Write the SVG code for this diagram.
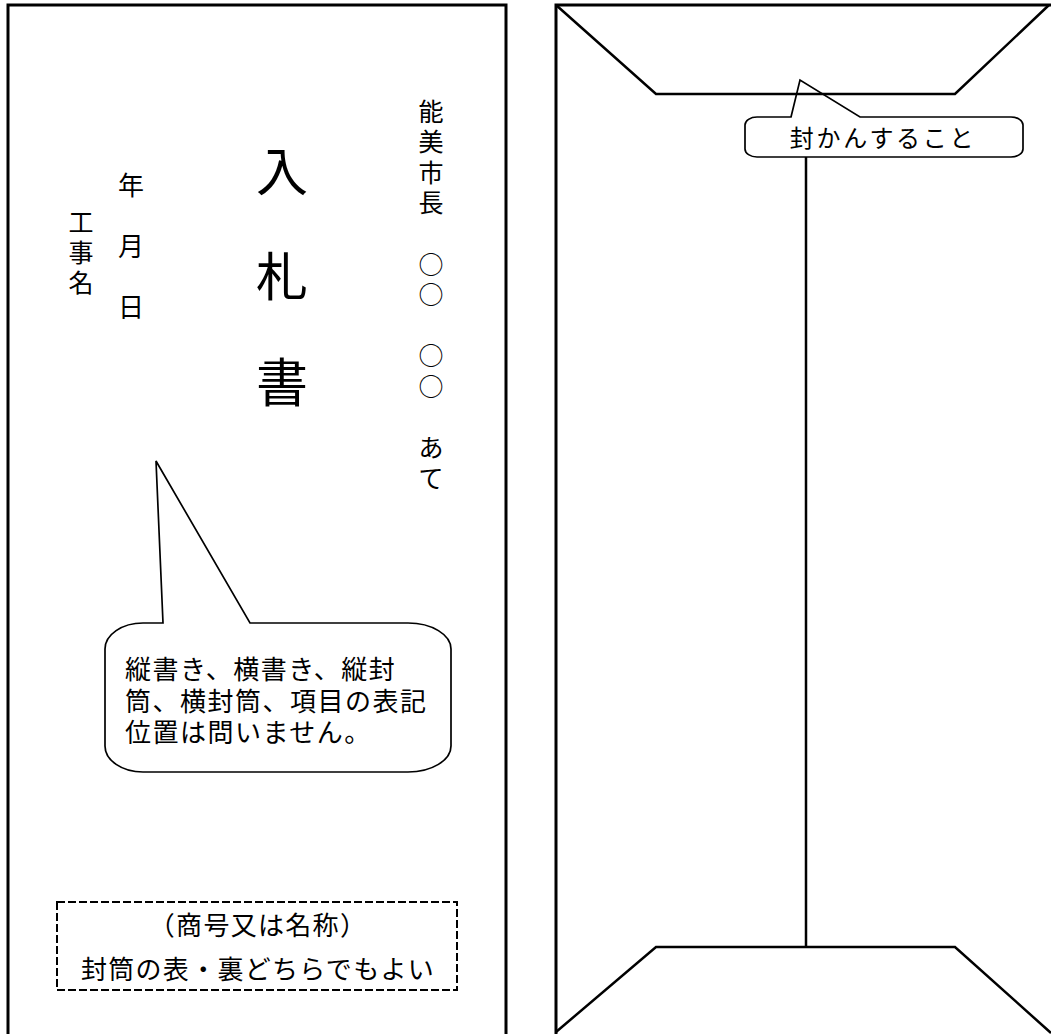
<svg xmlns="http://www.w3.org/2000/svg" width="1051" height="1034" viewBox="0 0 1051 1034">
<style>
.t{font-family:"Noto Sans CJK JP","Noto Sans CJK SC",sans-serif;fill:#000}
.env{fill:none;stroke:#000;stroke-width:3}
.flap{fill:none;stroke:#000;stroke-width:2.5}
.call{fill:#fff;stroke:#000;stroke-width:1.7;stroke-linejoin:miter}
</style>
<rect width="1051" height="1034" fill="#fff"/>
<g id="front-envelope">
<path class="env" d="M8,1036 V5 H506 V1036"/>
<text class="t" font-size="25" text-anchor="middle" x="431 431 431 431 431 431 431 431 431 431" y="120.5 151.1 181.7 212.3 273.5 304.1 365.3 395.9 457.1 487.7">能美市長○○○○あて</text>
<text class="t" font-size="52" text-anchor="middle" x="282 282 282" y="191 296 402">入札書</text>
<text class="t" font-size="26" text-anchor="middle" x="131 131 131" y="194.5 256 317">年月日</text>
<text class="t" font-size="25" text-anchor="middle" x="81 81 81" y="231.5 261.5 291.5">工事名</text>
</g>
<g id="note-callout">
<path class="call" d="M163,623 L156,461 L250,623 H408 A43,26 0 0 1 451,649 V746 A43,26 0 0 1 408,772 H143 A38,26 0 0 1 105,746 V649 A38,26 0 0 1 143,623 Z"/>
<text class="t" font-size="26" letter-spacing="1.5" x="125" y="679">縦書き、横書き、縦封</text>
<text class="t" font-size="26" letter-spacing="1.5" x="125" y="711">筒、横封筒、項目の表記</text>
<text class="t" font-size="26" letter-spacing="1.5" x="125" y="742">位置は問いません。</text>
</g>
<g id="name-box">
<rect x="57" y="902" width="400" height="88" fill="none" stroke="#000" stroke-width="2" stroke-dasharray="8 3"/>
<text class="t" font-size="26" letter-spacing="1.3" text-anchor="middle" x="258" y="935">（商号又は名称）</text>
<text class="t" font-size="26" letter-spacing="1.3" text-anchor="middle" x="258" y="979">封筒の表・裏どちらでもよい</text>
</g>
<g id="back-envelope">
<path class="env" d="M556,1036 V5 H1053"/>
<path class="call" d="M791,117 L800,80 L860,117 H1011 A12,8 0 0 1 1023,125 V149 A12,8 0 0 1 1011,157 H757 A12,8 0 0 1 745,149 V125 A12,8 0 0 1 757,117 Z"/>
<text class="t" font-size="24" letter-spacing="2.7" text-anchor="middle" x="883" y="147">封かんすること</text>
</g>
<g id="connectors">
<path class="flap" d="M556,5 L656,94 L955,94 L1049,5"/>
<path class="flap" d="M556,1032 L656,947 L955,947 L1051,1033"/>
<path class="flap" d="M806,157 V947"/>
</g>
</svg>
